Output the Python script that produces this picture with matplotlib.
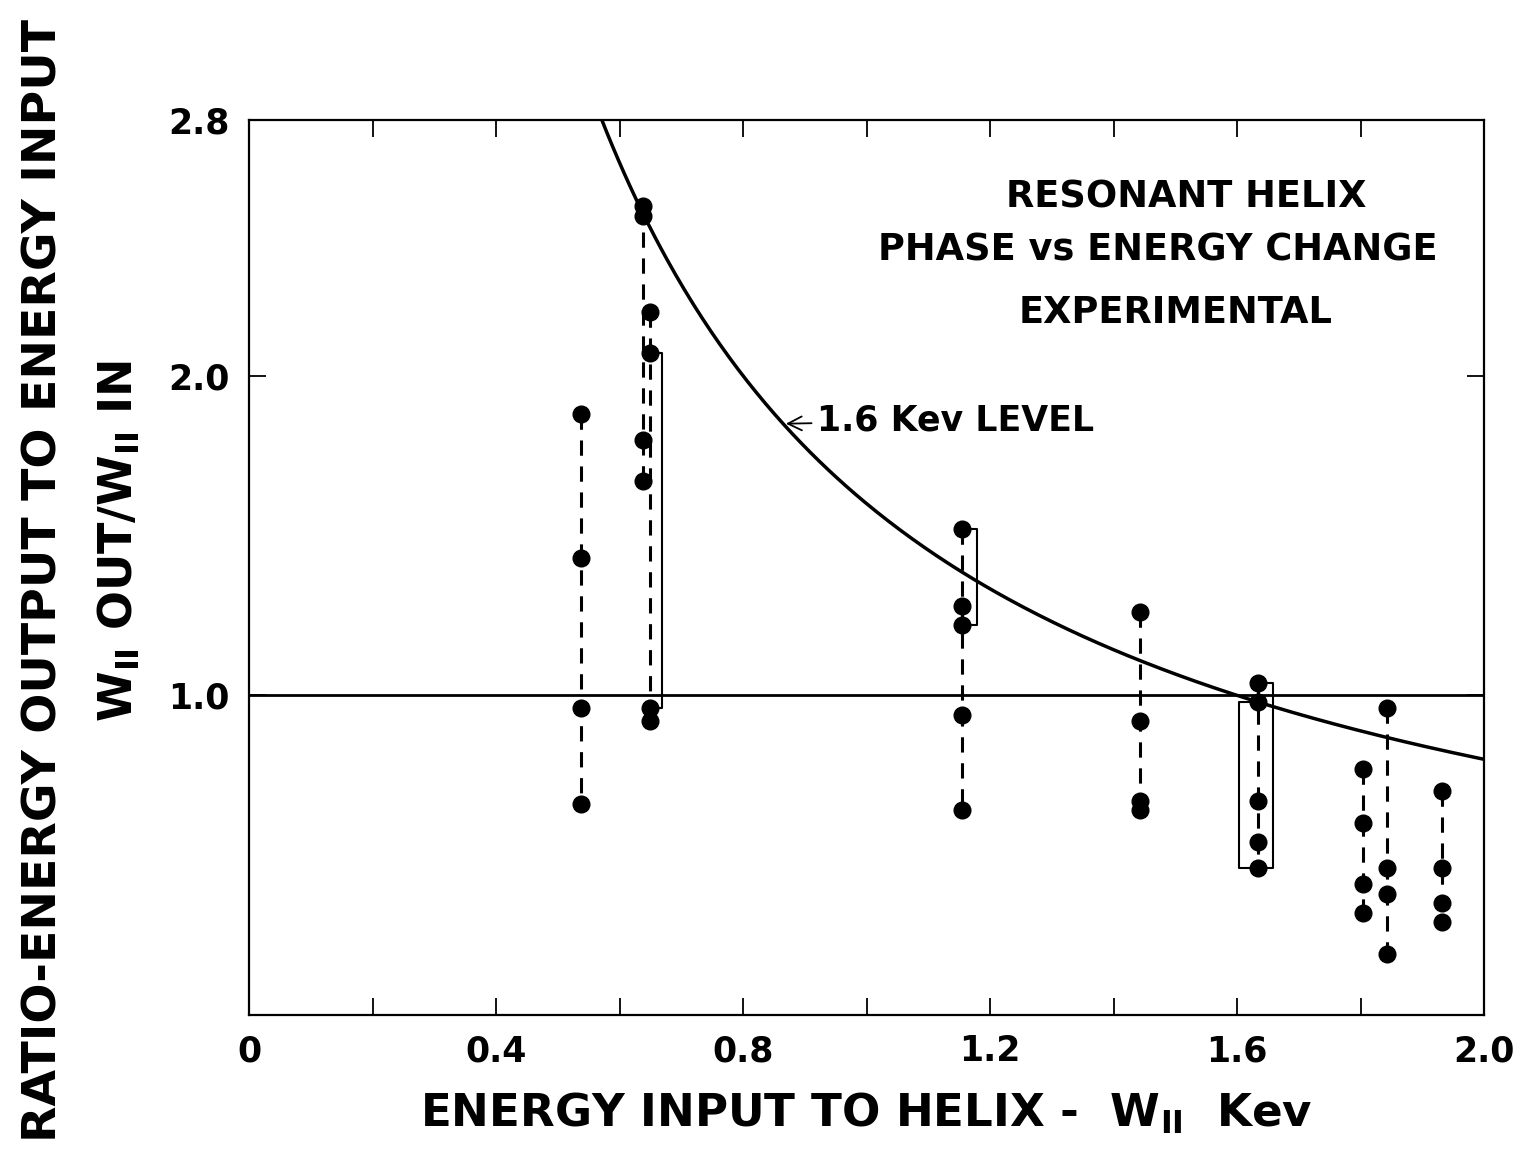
import numpy as np
import matplotlib
matplotlib.use("Agg")
import matplotlib.pyplot as plt

# measured columns of points (energy input, ratio)
col_x = [0.538, 0.638, 0.649, 1.155, 1.443, 1.634, 1.804, 1.843, 1.932]
col_y = [
    [1.88, 1.43, 0.96, 0.66],
    [2.53, 2.50, 1.80, 1.67],
    [2.20, 2.07, 0.96, 0.92],
    [1.52, 1.28, 1.22, 0.94, 0.64],
    [1.26, 0.92, 0.67, 0.64],
    [1.04, 0.98, 0.67, 0.54, 0.46],
    [0.77, 0.60, 0.41, 0.32],
    [0.96, 0.46, 0.38, 0.19],
    [0.70, 0.46, 0.35, 0.29],
]

# solid brackets: (x of point, x of bracket line, top, bottom)
brackets = [
    (0.652, 0.669, 2.07, 0.96),
    (1.158, 1.179, 1.52, 1.22),
    (1.640, 1.658, 1.04, 0.46),
    (1.628, 1.603, 0.98, 0.46),
]

level = 1.6  # Kev, constant output curve

plt.rcParams['font.family'] = ['DejaVu Sans']
plt.rcParams['font.weight'] = 'bold'

fig = plt.figure(figsize=(15.34, 11.62), dpi=100)
ax = fig.add_axes([249/1534, 1 - 1015/1162, (1484-249)/1534, (1015-120)/1162])

ax.set_xlim(0, 2.0)
ax.set_ylim(0, 2.8)

# 1.6 kev level curve
xc = np.linspace(0.55, 2.0, 300)
ax.plot(xc, level / xc, color='black', lw=2.5, zorder=3)

# unity line
ax.axhline(1.0, color='black', lw=2.0, zorder=2)

for x, ys in zip(col_x, col_y):
    ax.plot([x]*len(ys), ys, color='black', lw=2.2, ls=(0, (5, 3.5)), zorder=4)
    ax.plot([x]*len(ys), ys, 'o', color='black', ms=12, zorder=5)

for x0, xl, yt, yb in brackets:
    ax.plot([x0, xl, xl, x0], [yt, yt, yb, yb], color='black', lw=1.5, zorder=4)

ax.annotate('1.6 Kev LEVEL', xy=(0.865, level/0.865), xytext=(0.92, 1.86),
            fontsize=25, fontweight='bold', va='center', ha='left',
            arrowprops=dict(arrowstyle='->', color='black', lw=1.3))

ax.text(0.759, 0.914, 'RESONANT HELIX', transform=ax.transAxes,
        fontsize=26.5, fontweight='bold', ha='center', va='center')
ax.text(0.736, 0.855, 'PHASE vs ENERGY CHANGE', transform=ax.transAxes,
        fontsize=26.5, fontweight='bold', ha='center', va='center')
ax.text(0.75, 0.785, 'EXPERIMENTAL', transform=ax.transAxes,
        fontsize=26.5, fontweight='bold', ha='center', va='center')

ax.set_xticks(np.arange(0, 2.01, 0.2))
ax.set_xticklabels(['0', '', '0.4', '', '0.8', '', '1.2', '', '1.6', '', '2.0'])
ax.set_yticks([1.0, 2.0, 2.8])
ax.set_yticklabels(['1.0', '2.0', '2.8'])
ax.tick_params(direction='in', length=12, width=1.3, labelsize=25,
               top=True, right=True, pad=14)
for lab in ax.get_xticklabels() + ax.get_yticklabels():
    lab.set_fontweight('bold')
for s in ax.spines.values():
    s.set_linewidth(1.6)

ax.set_xlabel(r'ENERGY INPUT TO HELIX -  W$_{\mathregular{II}}$  Kev',
              fontsize=32.5, fontweight='bold', labelpad=16)
fig.text(0.029, 0.5, 'RATIO-ENERGY OUTPUT TO ENERGY INPUT', rotation=90,
         fontsize=34, fontweight='bold', ha='center', va='center')
fig.text(0.078, 0.534, r'W$_{\mathregular{II}}$ OUT/W$_{\mathregular{II}}$ IN',
         rotation=90, fontsize=33, fontweight='bold', ha='center', va='center')

fig.savefig('out.png', dpi=100)
